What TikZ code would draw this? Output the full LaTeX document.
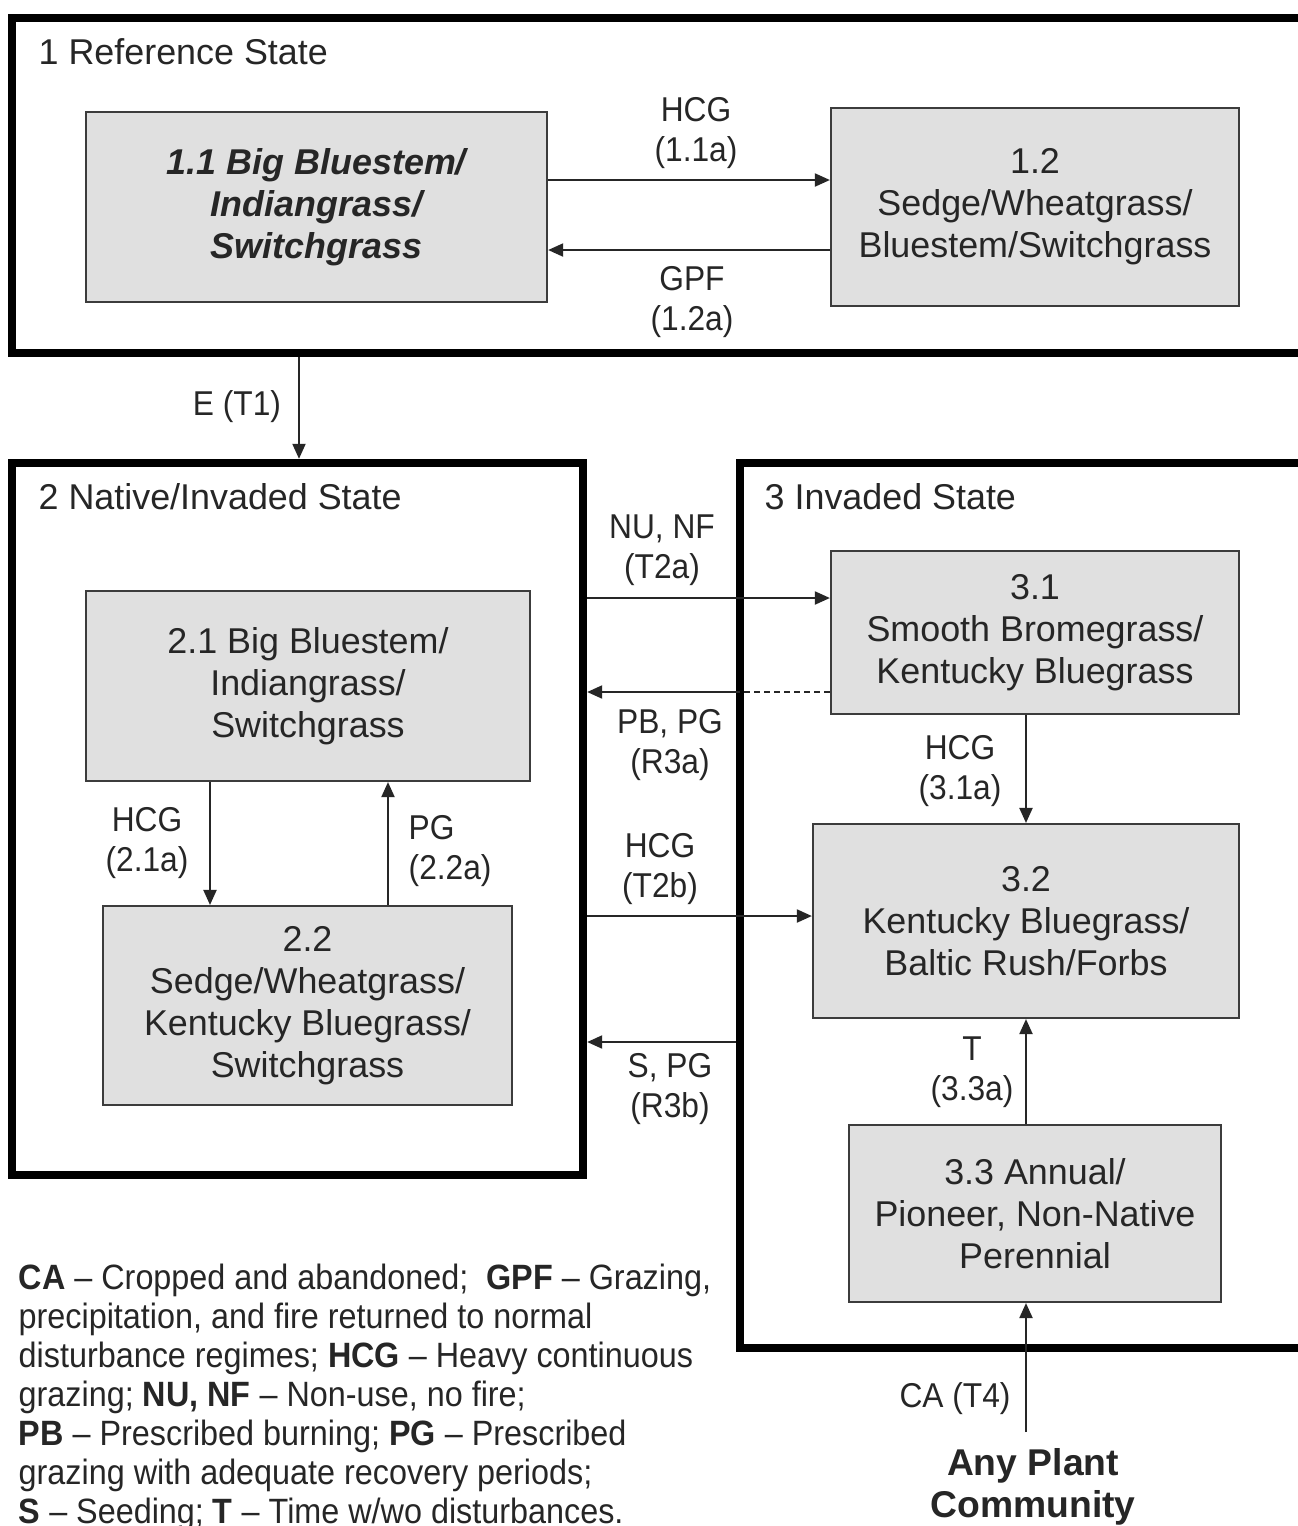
\documentclass[tikz,border=0pt]{standalone}
\usepackage{fontspec}
\setmainfont{Liberation Sans}
\newfontfamily\narrowfont{Liberation Sans}[FakeStretch=0.92]
\usetikzlibrary{arrows.meta}
\definecolor{boxfill}{RGB}{224,224,224}
\definecolor{boxline}{RGB}{60,60,60}
\definecolor{txt}{RGB}{38,38,38}
\begin{document}
\begin{tikzpicture}[x=0.01cm,y=-0.01cm,
  frame/.style={draw=black, line width=0.08cm, inner sep=0, fill=none},
  cbox/.style={draw=boxline, fill=boxfill, line width=0.02cm, inner sep=0, align=center, text=txt, font=\fontsize{10.2}{11.95}\selectfont},
  arr/.style={draw=black!85, line width=0.02cm, -{Triangle[length=0.15cm,width=0.13cm]}},
  plain/.style={draw=black!85, line width=0.02cm},
  lbl/.style={align=center, inner sep=0, text=txt, font=\narrowfont\fontsize{9.8}{11.4}\selectfont},
  ttl/.style={anchor=base west, inner sep=0, text=txt, font=\fontsize{10.2}{12}\selectfont}
]
\useasboundingbox (0,0) rectangle (1298,1526);
\clip (0,0) rectangle (1298,1526);
\fill[white] (0,0) rectangle (1298,1526);

% state frames
\node[frame, minimum width=13.18cm, minimum height=3.35cm] (s1) at (671,185.5) {};
\node[frame, minimum width=5.71cm, minimum height=7.12cm] (s2) at (297.5,819) {};
\node[frame, minimum width=5.90cm, minimum height=8.85cm] (s3) at (1035,905.5) {};

\node[ttl] (t1) at (38,64) {1 Reference State};
\node[ttl] (t2) at (38,509) {2 Native/Invaded State};
\node[ttl] (t3) at (764,509) {3 Invaded State};

% community boxes
\node[cbox, minimum width=4.61cm, minimum height=1.90cm, font=\bfseries\itshape\fontsize{10.2}{11.95}\selectfont] (b11) at (316.5,207) {1.1 Big Bluestem/\\Indiangrass/\\Switchgrass};
\node[cbox, minimum width=4.08cm, minimum height=1.98cm] (b12) at (1035,207) {1.2\\Sedge/Wheatgrass/\\Bluestem/Switchgrass};
\node[cbox, minimum width=4.44cm, minimum height=1.90cm] (b21) at (308,686) {2.1 Big Bluestem/\\Indiangrass/\\Switchgrass};
\node[cbox, minimum width=4.09cm, minimum height=1.99cm] (b22) at (307.5,1005.5) {2.2\\Sedge/Wheatgrass/\\Kentucky Bluegrass/\\Switchgrass};
\node[cbox, minimum width=4.08cm, minimum height=1.63cm] (b31) at (1035,632.5) {3.1\\Smooth Bromegrass/\\Kentucky Bluegrass};
\node[cbox, minimum width=4.26cm, minimum height=1.94cm] (b32) at (1026,921) {3.2\\Kentucky Bluegrass/\\Baltic Rush/Forbs};
\node[cbox, minimum width=3.72cm, minimum height=1.77cm] (b33) at (1035,1213.5) {3.3 Annual/\\Pioneer, Non-Native\\Perennial};

% any plant community
\node[align=center, inner sep=0, text=txt, font=\bfseries\fontsize{10.6}{12}\selectfont] (apc) at (1033,1487) {Any Plant\\Community};
\coordinate (t4start) at (1026,1432);

% arrows
\draw[arr] (b11.east |- 0,180) -- (b12.west |- 0,180);
\draw[arr] (b12.west |- 0,250) -- (b11.east |- 0,250);
\draw[arr] (s1.south -| 299,0) -- (s2.north -| 299,0);
\draw[arr] (s2.east |- 0,598) -- (b31.west |- 0,598);
\draw[plain, dashed, dash pattern=on 0.06cm off 0.04cm] (b31.west |- 0,692) -- (s3.west |- 0,692);
\draw[arr] (s3.west |- 0,692) -- (s2.east |- 0,692);
\draw[arr] (s2.east |- 0,916) -- (b32.west |- 0,916);
\draw[arr] (s3.west |- 0,1042) -- (s2.east |- 0,1042);
\draw[arr] (b21.south -| 210,0) -- (b22.north -| 210,0);
\draw[arr] (b22.north -| 388,0) -- (b21.south -| 388,0);
\draw[arr] (b31.south -| 1026,0) -- (b32.north -| 1026,0);
\draw[arr] (b33.north -| 1026,0) -- (b32.south -| 1026,0);
\draw[arr] (t4start) -- (b33.south -| 1026,0);

% arrow labels
\node[lbl] (l11a) at (696,133) {HCG\\(1.1a)};
\node[lbl] (l12a) at (692,302) {GPF\\(1.2a)};
\node[lbl] (lt1) at (237,407) {E (T1)};
\node[lbl] (lt2a) at (662,550) {NU, NF\\(T2a)};
\node[lbl] (lr3a) at (670,745) {PB, PG\\(R3a)};
\node[lbl] (lt2b) at (660,869) {HCG\\(T2b)};
\node[lbl] (lr3b) at (670,1089) {S, PG\\(R3b)};
\node[lbl] (l21a) at (147,843) {HCG\\(2.1a)};
\node[lbl, align=left, anchor=west] (l22a) at (408,851) {PG\\(2.2a)};
\node[lbl] (l31a) at (960,771) {HCG\\(3.1a)};
\node[lbl] (l33a) at (972,1072) {T\\(3.3a)};
\node[lbl] (lt4) at (955,1399) {CA (T4)};

% legend
\node[anchor=north west, align=left, inner sep=0, text=txt, font=\narrowfont\fontsize{10}{11.1}\selectfont] (legend) at (18,1263)
{\textbf{CA} – Cropped and abandoned;\ \ \textbf{GPF} – Grazing,\\
precipitation, and fire returned to normal\\
disturbance regimes; \textbf{HCG} – Heavy continuous\\
grazing; \textbf{NU, NF} – Non-use, no fire;\\
\textbf{PB} – Prescribed burning; \textbf{PG} – Prescribed\\
grazing with adequate recovery periods;\\
\textbf{S} – Seeding; \textbf{T} – Time w/wo disturbances.};
\end{tikzpicture}
\end{document}
